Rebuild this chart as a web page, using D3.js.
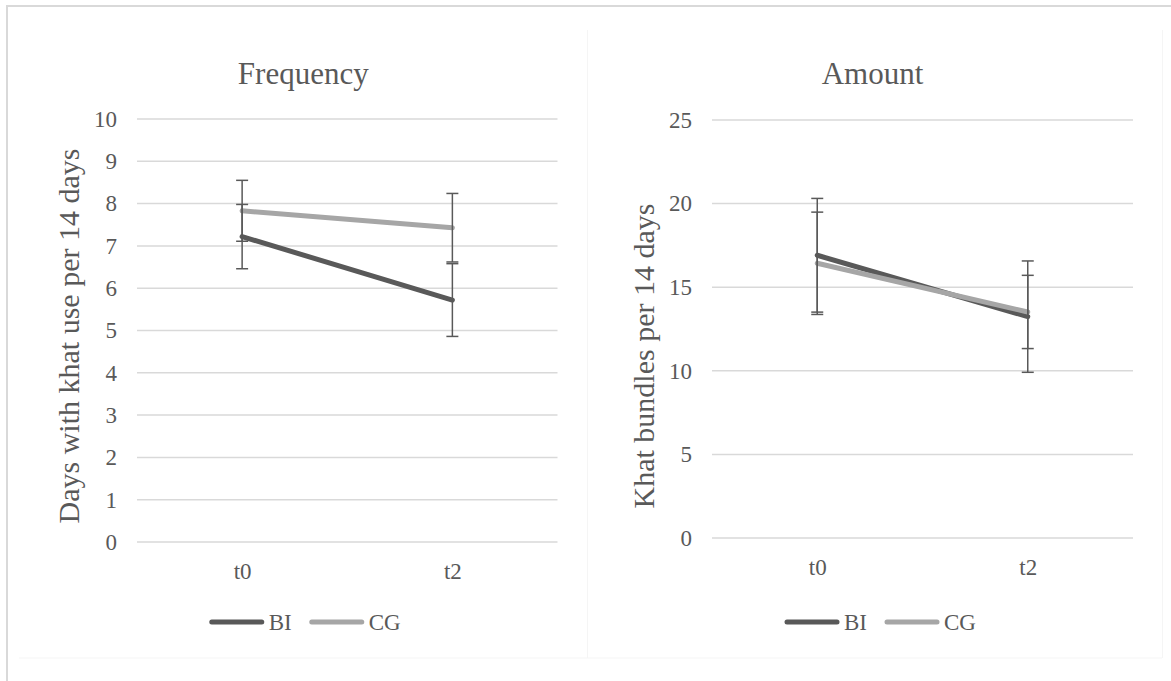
<!DOCTYPE html>
<html>
<head>
<meta charset="utf-8">
<script src="https://cdn.jsdelivr.net/npm/d3@7"></script>
<style>
  html, body { margin: 0; padding: 0; background: #ffffff; }
  svg { display: block; font-family: "Liberation Serif", "Times New Roman", serif; }
</style>
</head>
<body>
<svg id="chart" width="1171" height="681"></svg>
<script>
// ---- data ----
const categories = ["t0", "t2"];
const seriesNames = ["BI", "CG"];
const freqBI = [7.22, 5.72];
const freqBIErr = [0.76, 0.86];
const freqCG = [7.83, 7.43];
const freqCGErr = [0.72, 0.81];
const amtBI = [16.91, 13.24];
const amtBIErr = [3.40, 3.33];
const amtCG = [16.43, 13.52];
const amtCGErr = [3.06, 2.19];
const freqTicks = [0, 1, 2, 3, 4, 5, 6, 7, 8, 9, 10];
const amtTicks = [0, 5, 10, 15, 20, 25];

// ---- styles ----
const TEXT = "#595959";
const GRID = "#d9d9d9";
const seriesColors = { BI: "#595959", CG: "#a6a6a6" };

const svg = d3.select("#chart");

// outer frame
svg.append("line").attr("x1", 7).attr("x2", 7).attr("y1", 5).attr("y2", 681)
  .attr("stroke", GRID).attr("stroke-width", 2);
svg.append("line").attr("x1", 6).attr("x2", 1171).attr("y1", 6).attr("y2", 6)
  .attr("stroke", GRID).attr("stroke-width", 2);
// faint panel outlines
const faint = "#f5f5f5";
svg.append("line").attr("x1", 19).attr("x2", 1162).attr("y1", 658).attr("y2", 658).attr("stroke", faint);
svg.append("line").attr("x1", 587.5).attr("x2", 587.5).attr("y1", 30).attr("y2", 658).attr("stroke", faint);
svg.append("line").attr("x1", 1162.5).attr("x2", 1162.5).attr("y1", 30).attr("y2", 658).attr("stroke", faint);

function panel(cfg) {
  const g = svg.append("g");
  const x = d3.scalePoint().domain(categories).range([cfg.left, cfg.right]).padding(0.5);
  const y = d3.scaleLinear().domain([0, cfg.max]).range([cfg.bottom, cfg.top]);
  const cx = (cfg.left + cfg.right) / 2 - 42;

  // gridlines
  g.append("g").selectAll("line").data(cfg.ticks).join("line")
    .attr("x1", cfg.left).attr("x2", cfg.right)
    .attr("y1", d => y(d)).attr("y2", d => y(d))
    .attr("stroke", GRID).attr("stroke-width", 1.5);

  // y axis labels
  const yAxis = d3.axisLeft(y).tickValues(cfg.ticks).tickSize(0).tickPadding(20);
  const ya = g.append("g").attr("transform", `translate(${cfg.left},0)`).call(yAxis);
  ya.select(".domain").remove();
  ya.selectAll("text").attr("fill", TEXT).style("font-size", "23px")
    .style("font-family", '"Liberation Serif", "Times New Roman", serif');

  // x axis labels
  const xAxis = d3.axisBottom(x).tickSize(0).tickPadding(21);
  const xa = g.append("g").attr("transform", `translate(0,${cfg.bottom})`).call(xAxis);
  xa.select(".domain").remove();
  xa.selectAll("text").attr("fill", TEXT).style("font-size", "23px")
    .style("font-family", '"Liberation Serif", "Times New Roman", serif');

  // title
  g.append("text").attr("x", cx + cfg.titleDx).attr("y", 84).attr("text-anchor", "middle")
    .attr("fill", TEXT).style("font-size", "31px").text(cfg.title);

  // y axis title
  g.append("text")
    .attr("transform", `translate(${cfg.left - 58},${cfg.yTitleY}) rotate(-90)`)
    .attr("text-anchor", "middle").attr("fill", TEXT).style("font-size", "30px")
    .text(cfg.yTitle);

  // lines
  const line = d3.line().x((d, i) => x(categories[i])).y(d => y(d));
  cfg.series.forEach(s => {
    g.append("path").datum(s.values).attr("d", line)
      .attr("fill", "none").attr("stroke", seriesColors[s.name])
      .attr("stroke-width", 5).attr("stroke-linecap", "round").attr("stroke-linejoin", "round");
  });

  // error bars
  cfg.series.forEach(s => {
    const eg = g.append("g").attr("stroke", "#595959").attr("stroke-width", 1.5);
    s.values.forEach((v, i) => {
      const xx = x(categories[i]);
      const hi = y(v + s.err[i]), lo = y(v - s.err[i]);
      eg.append("line").attr("x1", xx).attr("x2", xx).attr("y1", hi).attr("y2", lo);
      eg.append("line").attr("x1", xx - 6).attr("x2", xx + 6).attr("y1", hi).attr("y2", hi);
      eg.append("line").attr("x1", xx - 6).attr("x2", xx + 6).attr("y1", lo).attr("y2", lo);
    });
  });

  // legend
  const ly = 622;
  const lg = g.append("g");
  const items = seriesNames.map(n => ({ name: n }));
  let xpos = 0;
  const tmp = [];
  items.forEach(it => {
    const t = lg.append("text").attr("y", ly).attr("dy", "0.35em").attr("fill", TEXT)
      .style("font-size", "23px").text(it.name);
    const w = t.node().getComputedTextLength();
    tmp.push({ it, t, start: xpos, w });
    xpos += 54 + 5 + w + 18;
  });
  const total = xpos - 18;
  const x0 = cx - total / 2;
  tmp.forEach(o => {
    lg.append("line").attr("x1", x0 + o.start + 2).attr("x2", x0 + o.start + 52)
      .attr("y1", ly).attr("y2", ly).attr("stroke", seriesColors[o.it.name])
      .attr("stroke-width", 5).attr("stroke-linecap", "round");
    o.t.attr("x", x0 + o.start + 59);
  });
}

panel({
  left: 137, right: 557.5, top: 119, bottom: 542, max: 10, ticks: freqTicks,
  title: "Frequency", titleDx: -2, yTitleY: 336, yTitle: "Days with khat use per 14 days",
  series: [
    { name: "BI", values: freqBI, err: freqBIErr },
    { name: "CG", values: freqCG, err: freqCGErr }
  ]
});

panel({
  left: 712, right: 1133, top: 120, bottom: 538, max: 25, ticks: amtTicks,
  title: "Amount", titleDx: -8, yTitleY: 356, yTitle: "Khat bundles per 14 days",
  series: [
    { name: "BI", values: amtBI, err: amtBIErr },
    { name: "CG", values: amtCG, err: amtCGErr }
  ]
});
</script>
</body>
</html>
